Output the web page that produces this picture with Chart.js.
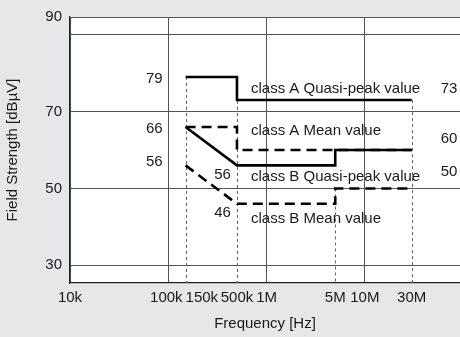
<!DOCTYPE html>
<html>
<head>
<meta charset="utf-8">
<script src="https://cdn.jsdelivr.net/npm/chart.js@4"></script>
<style>
  html, body { margin: 0; padding: 0; background: #e6e7e9; }
  #wrap { width: 460px; height: 337px; }
</style>
</head>
<body>
<div id="wrap"><canvas id="limit-chart" width="460" height="337"></canvas></div>
<script>
// grenzwerte (CISPR-artig), frequenz in Hz, pegel in dBµV
const aQpFreq = [150e3, 500e3, 500e3, 30e6];
const aQpLevel = [79, 79, 73, 73];
const aAvgFreq = [150e3, 500e3, 500e3, 30e6];
const aAvgLevel = [66, 66, 60, 60];
const bQpFreq = [150e3, 500e3, 5e6, 5e6, 30e6];
const bQpLevel = [66, 56, 56, 60, 60];
const bAvgFreq = [150e3, 500e3, 5e6, 5e6, 30e6];
const bAvgLevel = [56, 46, 46, 50, 50];

// senkrechte hilfslinien (von grenzwert bis unten)
const dropFreq = [150e3, 500e3, 5e6, 30e6];
const dropLevel = [79, 79, 50, 73];

// achsen
const xTickValues = [1e4, 1e5, 1.5e5, 5e5, 1e6, 5e6, 1e7, 3e7];
const xTickLabels = ["10k", "100k", "150k", "500k", "1M", "5M", "10M", "30M"];
const xGridValues = [1e4, 1e5, 1e6, 1e7];
const yTickValues = [30, 50, 70, 90];
const yMin = 25.4, yMax = 94.6, xMin = 1e4, xMax = 9.3e7;

// zahlen an den kurven
const tagText = ["79", "66", "56", "56", "46", "73", "60", "50"];
const tagFreq = [150e3, 150e3, 150e3, 500e3, 500e3, 30e6, 30e6, 30e6];
const tagLevel = [78.5, 65.5, 56.8, 53.5, 43.7, 75.8, 63, 54.3];

// beschriftung der kurven
const classText = ["class A Quasi-peak value", "class A Mean value", "class B Quasi-peak value", "class B Mean value"];
const classLevel = [76, 65, 53, 42.2];

const FONT = "'Liberation Sans', Arial, sans-serif";
const TEXT = "#1a1a1a";
const toPts = (fs, ls) => fs.map((f, i) => ({ x: f, y: ls[i] }));

const plotBg = {
  id: "plotBg",
  beforeDraw(chart) {
    const { ctx, chartArea: a } = chart;
    ctx.save();
    ctx.fillStyle = "#fff";
    ctx.fillRect(a.left, a.top, a.right - a.left, a.bottom - a.top);
    ctx.restore();
  }
};

const dropLines = {
  id: "dropLines",
  beforeDatasetsDraw(chart) {
    const { ctx, chartArea: a, scales } = chart;
    ctx.save();
    ctx.strokeStyle = "#666";
    ctx.lineWidth = 1;
    ctx.setLineDash([3, 3]);
    dropFreq.forEach((f, i) => {
      const x = Math.round(scales.x.getPixelForValue(f)) + 0.5;
      ctx.beginPath();
      ctx.moveTo(x, scales.y.getPixelForValue(dropLevel[i]));
      ctx.lineTo(x, a.bottom);
      ctx.stroke();
    });
    ctx.restore();
  }
};

// x-beschriftung selbst zeichnen, damit 100k/150k sich nicht ueberdecken
const xLabels = {
  id: "xLabels",
  afterDraw(chart) {
    const { ctx, chartArea: a, scales } = chart;
    ctx.save();
    ctx.fillStyle = TEXT;
    ctx.font = "15px " + FONT;
    ctx.textBaseline = "middle";
    const y = a.bottom + 15;
    const px = xTickValues.map(v => scales.x.getPixelForValue(v));
    const w = xTickLabels.map(t => ctx.measureText(t).width);
    const tight = px.map((p, i) => i < px.length - 1 && p + w[i] / 2 > px[i + 1] - w[i + 1] / 2);
    xTickLabels.forEach((t, i) => {
      if (tight[i]) {
        ctx.textAlign = "right";
        ctx.fillText(t, px[i + 1] - 3, y);
      } else if (i > 0 && tight[i - 1]) {
        ctx.textAlign = "left";
        ctx.fillText(t, px[i], y);
      } else {
        ctx.textAlign = "center";
        ctx.fillText(t, px[i], y);
      }
    });
    ctx.restore();
  }
};

const labels = {
  id: "labels",
  afterDatasetsDraw(chart) {
    const { ctx, chartArea: a, scales } = chart;
    ctx.save();
    ctx.fillStyle = TEXT;
    ctx.font = "15px " + FONT;
    ctx.textBaseline = "middle";
    tagText.forEach((t, i) => {
      const px = scales.x.getPixelForValue(tagFreq[i]);
      const y = scales.y.getPixelForValue(tagLevel[i]);
      if (tagFreq[i] === 150e3) {
        ctx.textAlign = "right";
        ctx.fillText(t, px - 23, y);
      } else if (tagFreq[i] === 500e3) {
        ctx.textAlign = "right";
        ctx.fillText(t, px - 6, y);
      } else {
        ctx.textAlign = "center";
        ctx.fillText(t, a.right - 11, y);
      }
    });
    ctx.textAlign = "left";
    const x0 = scales.x.getPixelForValue(500e3) + 14;
    classText.forEach((t, i) => {
      ctx.fillText(t, x0, scales.y.getPixelForValue(classLevel[i]));
    });
    ctx.restore();
  }
};

const thick = { borderColor: "#000", borderWidth: 2.6, pointRadius: 0, fill: false, tension: 0 };

new Chart(document.getElementById("limit-chart"), {
  type: "line",
  data: {
    datasets: [
      { ...thick, label: "class A Quasi-peak", data: toPts(aQpFreq, aQpLevel) },
      { ...thick, label: "class A Mean", data: toPts(aAvgFreq, aAvgLevel), borderDash: [10, 6] },
      { ...thick, label: "class B Quasi-peak", data: toPts(bQpFreq, bQpLevel) },
      { ...thick, label: "class B Mean", data: toPts(bAvgFreq, bAvgLevel), borderDash: [10, 6] }
    ]
  },
  options: {
    responsive: false,
    animation: false,
    devicePixelRatio: 1,
    layout: { padding: { top: 15, right: 0, left: 0, bottom: 0 } },
    plugins: { legend: { display: false }, tooltip: { enabled: false } },
    scales: {
      x: {
        type: "logarithmic",
        min: xMin,
        max: xMax,
        afterBuildTicks: s => { s.ticks = xTickValues.map(v => ({ value: v })); },
        afterFit: s => { s.height = 54; },
        ticks: { display: false, autoSkip: false },
        grid: {
          drawTicks: false,
          color: c => (c.tick && xGridValues.includes(c.tick.value)) ? "#555" : "rgba(0,0,0,0)",
          lineWidth: 1
        },
        border: { color: "#222", width: 1.2 },
        title: {
          display: true,
          text: "Frequency [Hz]",
          color: TEXT,
          font: { family: FONT, size: 15 },
          padding: { top: 4, bottom: 4 }
        }
      },
      y: {
        type: "linear",
        min: yMin,
        max: yMax,
        afterBuildTicks: s => { s.ticks = yTickValues.concat([yMax]).map(v => ({ value: v })); },
        afterFit: s => { s.width = 70; },
        ticks: {
          padding: 8,
          color: TEXT,
          font: { family: FONT, size: 15 },
          // oberste beschriftung sitzt wie im original an der oberkante
          callback: v => v === yMax ? "90" : (v === 90 ? "" : v)
        },
        grid: { drawTicks: false, color: "#555", lineWidth: 1 },
        border: { color: "#222", width: 1.2 },
        title: {
          display: true,
          text: "Field Strength [dBµV]",
          color: TEXT,
          font: { family: FONT, size: 15 },
          padding: { top: 4, bottom: 4 }
        }
      }
    }
  },
  plugins: [plotBg, dropLines, xLabels, labels]
});
</script>
</body>
</html>
